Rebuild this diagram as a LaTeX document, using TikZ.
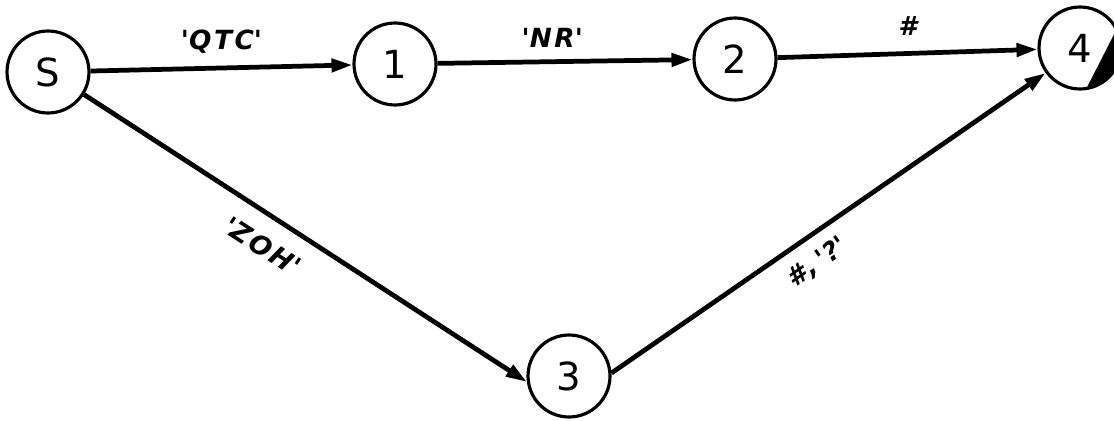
\documentclass[tikz,border=0pt]{standalone}
\usepackage{fontspec}
\setsansfont{DejaVu Sans}
\newfontfamily\lblfont{DejaVu Sans}[LetterSpace=10]
\usetikzlibrary{arrows.meta,calc}
\newcommand{\qq}{\textquotesingle}
\tikzset{
  state/.style={circle,draw,line width=1.8pt,minimum size=1.64cm,inner sep=0pt,
    font=\sffamily\fontsize{22}{22}\selectfont},
  edge/.style={line width=2.7pt,-{Triangle[length=0.42cm,width=0.26cm]}},
  lbl/.style={font=\lblfont\bfseries\itshape\fontsize{15}{15}\selectfont,inner sep=7pt}
}
\begin{document}
\begin{tikzpicture}[x=0.02cm,y=0.02cm]
  \useasboundingbox (0,0) rectangle (1114,420);
  % states
  \node[state] (S)  at (48,348)  {S};
  \node[state] (n1) at (395,356) {1};
  \node[state] (n2) at (735,361) {2};
  \node[state] (n4) at (1080,372) {4};
  \node[state] (n3) at (569,44)  {3};
  % final state mark
  \fill ($(n4.center)+(-81:0.82cm)$) arc[start angle=-81,end angle=27,radius=0.82cm] -- cycle;
  % transitions
  \draw[edge] (S) -- (n1) node[lbl,midway,above] {\qq QTC\qq};
  \draw[edge] (n1) -- (n2) node[lbl,pos=0.45,above] {\qq NR\qq};
  \draw[edge] (n2) -- (n4) node[lbl,midway,above,yshift=2pt] {\#};
  \draw[edge] (S.-32) -- (n3.188) node[lbl,pos=0.44,below,sloped,yshift=-3pt] {\qq ZOH\qq};
  \draw[edge] (n3.4) -- (n4.216) node[lbl,pos=0.44,below,sloped] {\#,\,\qq ?\qq};
\end{tikzpicture}
\end{document}
